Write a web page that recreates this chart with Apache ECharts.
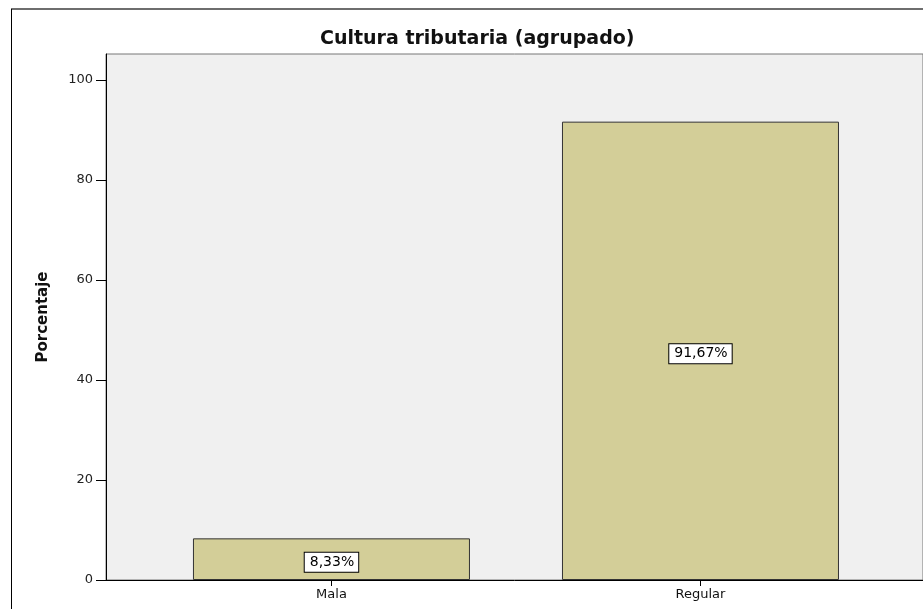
<!DOCTYPE html>
<html>
<head>
<meta charset="utf-8">
<script src="https://cdn.jsdelivr.net/npm/echarts@6/dist/echarts.min.js"></script>
<style>
  html, body { margin: 0; padding: 0; background: #fff; }
  #chart { width: 923px; height: 609px; }
</style>
</head>
<body>
<div id="chart"></div>
<script>
const categories = ['Mala', 'Regular']
const percentages = [8.33, 91.67]
const yTicks = [0, 20, 40, 60, 80, 100]

const chart = echarts.init(document.getElementById('chart'))
const font = '"DejaVu Sans", Arial, sans-serif'

const option = {
  animation: false,
  backgroundColor: '#fff',
  title: {
    text: 'Cultura tributaria (agrupado)',
    left: 315,
    top: 25,
    textStyle: { fontFamily: font, fontSize: 19, fontWeight: 'bold', color: '#111' }
  },
  graphic: [
    // marco exterior
    { type: 'line', shape: { x1: 11, y1: 9, x2: 923, y2: 9 }, style: { stroke: '#6e6e6e', lineWidth: 2 } },
    { type: 'line', shape: { x1: 11.5, y1: 9, x2: 11.5, y2: 609 }, style: { stroke: '#000', lineWidth: 1 } }
  ],
  grid: {
    left: 106,
    top: 54,
    right: 0,
    bottom: 29,
    show: true,
    backgroundColor: '#f0f0f0',
    borderColor: '#777',
    borderWidth: 1
  },
  xAxis: {
    type: 'value',
    min: -0.611,
    max: 1.603,
    splitLine: { show: false },
    axisLine: { show: true, onZero: false, lineStyle: { color: '#000', width: 1 } },
    axisTick: { show: true, customValues: [0, 1], length: 6, lineStyle: { color: '#000' } },
    axisLabel: {
      customValues: [0, 1],
      formatter: v => categories[Math.round(v)],
      margin: 8,
      fontFamily: font,
      fontSize: 13,
      color: '#111'
    }
  },
  yAxis: {
    type: 'value',
    min: 0,
    max: 105.2,
    name: 'Porcentaje',
    nameLocation: 'middle',
    nameRotate: 90,
    nameGap: 55,
    nameTextStyle: { fontFamily: font, fontSize: 15, fontWeight: 'bold', color: '#111' },
    splitLine: { show: false },
    axisLine: { show: true, onZero: false, lineStyle: { color: '#000', width: 1 } },
    axisTick: { show: true, customValues: yTicks, length: 10, lineStyle: { color: '#000' } },
    axisLabel: {
      customValues: yTicks,
      margin: 13,
      fontFamily: font,
      fontSize: 13,
      color: '#222'
    }
  },
  series: [
    {
      type: 'bar',
      data: percentages.map((v, i) => [i, v]),
      barWidth: 277,
      itemStyle: { color: '#d3ce98', borderColor: '#333', borderWidth: 1 },
      label: {
        show: true,
        position: 'inside',
        offset: [0, 3],
        formatter: p => p.value[1].toFixed(2).replace('.', ',') + '%',
        fontFamily: font,
        fontSize: 14,
        color: '#000',
        backgroundColor: '#fff',
        borderColor: '#000',
        borderWidth: 1,
        padding: [3, 4, 2, 5]
      }
    }
  ]
}

option && chart.setOption(option)
</script>
</body>
</html>
